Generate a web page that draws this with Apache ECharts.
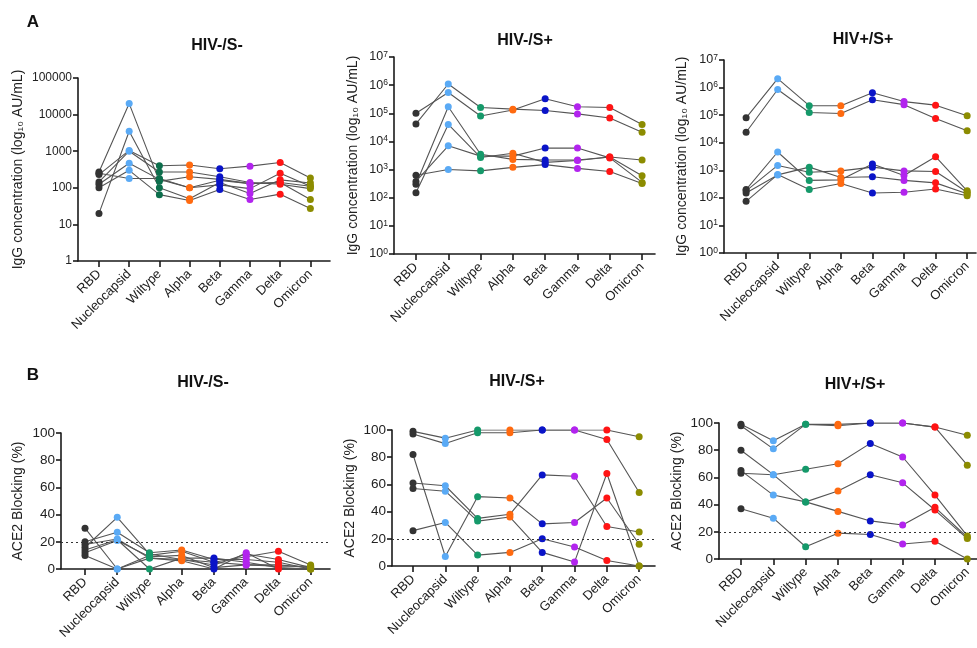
<!DOCTYPE html>
<html>
<head>
<meta charset="utf-8">
<script src="https://cdn.jsdelivr.net/npm/echarts@6/dist/echarts.min.js"></script>
<style>
html,body{margin:0;padding:0;background:#fff;}
#chart{width:977px;height:648px;}
</style>
</head>
<body>
<div id="chart"></div>
<script>
// ---------- data ----------
const categories = ['RBD', 'Nucleocapsid', 'Wiltype', 'Alpha', 'Beta', 'Gamma', 'Delta', 'Omicron'];
const pointColors = ['#333333', '#5aaaf5', '#15996a', '#ff6a10', '#0a14c8', '#b224ee', '#ff1414', '#8c8c00'];
const panelTitles = ['HIV-/S-', 'HIV-/S+', 'HIV+/S+', 'HIV-/S-', 'HIV-/S+', 'HIV+/S+'];

// IgG concentration (AU/mL), one row per participant, columns follow categories
const igHivNegSNeg = [
  [270, 20000, 150, 200, 170, 130, 140, 110],
  [20, 3500, 100, 50, 140, 70, 165, 135],
  [230, 1050, 400, 420, 330, 390, 490, 185],
  [145, 1000, 270, 270, 200, 140, 125, 95],
  [125, 470, 170, 100, 120, 95, 250, 110],
  [100, 300, 65, 45, 90, 48, 67, 27],
  [250, 180, 180, 100, 160, 130, 140, 48]
];
const igHivNegSPos = [
  [100000, 550000, 80000, 130000, 330000, 170000, 160000, 40000],
  [42000, 1100000, 160000, 140000, 125000, 95000, 68000, 21000],
  [300, 170000, 3500, 2300, 2200, 2200, 2800, 2200],
  [150, 40000, 2700, 3800, 1800, 2100, 2800, 600],
  [380, 7000, 3000, 3000, 5800, 5800, 2600, 350],
  [630, 1000, 900, 1200, 1500, 1100, 850, 320]
];
const igHivPosSPos = [
  [80000, 2100000, 220000, 220000, 650000, 310000, 230000, 95000],
  [24000, 850000, 125000, 115000, 360000, 240000, 75000, 27000],
  [200, 4600, 430, 450, 1700, 650, 3100, 180],
  [180, 1500, 850, 950, 1300, 950, 900, 160],
  [150, 680, 1300, 550, 580, 430, 350, 140],
  [75, 700, 200, 330, 150, 160, 210, 120]
];

// ACE2 blocking (%), one row per participant
const aceHivNegSNeg = [
  [30, 0, 10, 13, 5, 9, 13, 3],
  [16, 38, 11, 7, 3, 11, 7, 1],
  [20, 27, 12, 14, 7, 7, 5, 0],
  [14, 21.5, 0, 8, 8, 5, 1, 0],
  [12, 21, 9, 10, 1, 3, 3, 1],
  [10, 0, 8, 6, 0, 12, 0, 0],
  [18, 22, 8, 7, 5, 3, 2, 2]
];
const aceHivNegSPos = [
  [99, 94, 100, 100, 100, 100, 100, 95],
  [97, 90, 98, 98, 100, 100, 93, 54],
  [82, 7, 51, 50, 31, 32, 50, 16],
  [61, 59, 35, 38, 67, 66, 29, 25],
  [57, 55, 33, 36, 10, 3, 68, 0],
  [26, 32, 8, 10, 20, 14, 4, 0]
];
const aceHivPosSPos = [
  [99, 87, 99, 99, 100, 100, 97, 91],
  [98, 81, 99, 98, 100, 100, 97, 69],
  [80, 62, 42, 35, 28, 25, 38, 16],
  [63, 62, 66, 70, 85, 75, 47, 17],
  [65, 47, 42, 50, 62, 56, 36, 15],
  [37, 30, 9, 19, 18, 11, 13, 0]
];

const logTicksSNeg = [1, 10, 100, 1000, 10000, 100000];
const logTicksSPos = [1, 10, 100, 1000, 10000, 100000, 1000000, 10000000];
const blockingTicks = [0, 20, 40, 60, 80, 100];
const blockingThreshold = 20;

// ---------- layout ----------
const FONT = 'Liberation Sans, Arial, Helvetica, sans-serif';
const panels = [
  {data: igHivNegSNeg, kind: 'log', ticks: logTicksSNeg, sup: false, left: 78, top: 78, width: 252, height: 183, xmin: -0.695, xmax: 7.65, nameGap: 53, title: [217, 46], wilColor: '#0d6e4c'},
  {data: igHivNegSPos, kind: 'log', ticks: logTicksSPos, sup: true, left: 394, top: 57, width: 261, height: 197, xmin: -0.68, xmax: 7.4, nameGap: 34, title: [525, 41]},
  {data: igHivPosSPos, kind: 'log', ticks: logTicksSPos, sup: true, left: 724, top: 60, width: 252, height: 193, xmin: -0.7, xmax: 7.28, nameGap: 35, title: [863, 40]},
  {data: aceHivNegSNeg, kind: 'lin', ticks: blockingTicks, left: 61, top: 433, width: 269, height: 136, xmin: -0.745, xmax: 7.6, nameGap: 36, title: [203, 383]},
  {data: aceHivNegSPos, kind: 'lin', ticks: blockingTicks, left: 392, top: 430, width: 263, height: 136, xmin: -0.65, xmax: 7.49, nameGap: 35, title: [517, 382]},
  {data: aceHivPosSPos, kind: 'lin', ticks: blockingTicks, left: 719, top: 423, width: 258, height: 136, xmin: -0.68, xmax: 7.3, nameGap: 35, title: [855, 385]}
];

const axisLineStyle = {color: '#1a1a1a', width: 1.6};
const catIdx = categories.map((c, i) => i);

const grids = [], xAxes = [], yAxes = [], series = [], graphics = [];

panels.forEach((p, pi) => {
  grids.push({left: p.left, top: p.top, width: p.width, height: p.height, containLabel: false});
  xAxes.push({
    gridIndex: pi, type: 'value', min: p.xmin, max: p.xmax,
    splitLine: {show: false},
    axisLine: {show: true, onZero: false, lineStyle: axisLineStyle},
    axisTick: {show: true, length: 6, customValues: catIdx, lineStyle: axisLineStyle},
    axisLabel: {
      customValues: catIdx, rotate: 45, margin: 11,
      fontFamily: FONT, fontSize: 13, color: '#222',
      formatter: v => categories[Math.round(v)] || ''
    }
  });
  const yBase = {
    gridIndex: pi,
    splitLine: {show: false},
    axisLine: {show: true, onZero: false, lineStyle: axisLineStyle},
    axisTick: {show: true, length: 5, lineStyle: axisLineStyle, customValues: p.ticks},
    nameLocation: 'middle', nameGap: p.nameGap, nameRotate: 90,
    nameTextStyle: {fontFamily: FONT, fontSize: 14, color: '#222'}
  };
  if (p.kind === 'log') {
    Object.assign(yBase, {
      type: 'log', logBase: 10, min: p.ticks[0], max: p.ticks[p.ticks.length - 1],
      name: 'IgG concentration (log₁₀ AU/mL)',
      axisLabel: {
        customValues: p.ticks, fontFamily: FONT, fontSize: 12, color: '#222', margin: 6,
        formatter: v => {
          const e = Math.round(Math.log10(v));
          return p.sup ? '{b|10}{s|' + e + '}' : String(Math.round(v));
        },
        rich: {
          b: {fontFamily: FONT, fontSize: 12.5, color: '#222', lineHeight: 14},
          s: {fontFamily: FONT, fontSize: 8.5, color: '#222', lineHeight: 14, verticalAlign: 'top', padding: [0, 0, 7, 0]}
        }
      }
    });
  } else {
    Object.assign(yBase, {
      type: 'value', min: 0, max: 100, interval: 20,
      name: 'ACE2 Blocking (%)',
      axisLabel: {fontFamily: FONT, fontSize: 13.5, color: '#222', margin: 6}
    });
  }
  yAxes.push(yBase);

  p.data.forEach((row, ri) => {
    const s = {
      type: 'line', xAxisIndex: pi, yAxisIndex: pi,
      symbol: 'circle', symbolSize: 7, showSymbol: true,
      lineStyle: {color: '#555', width: 1.1},
      emphasis: {disabled: true},
      z: 2,
      data: row.map((v, ci) => ({
        value: [ci, v],
        itemStyle: {color: (ci === 2 && p.wilColor) ? p.wilColor : pointColors[ci]}
      }))
    };
    if (p.kind === 'lin' && ri === 0) {
      s.markLine = {
        silent: true, symbol: 'none', label: {show: false},
        lineStyle: {type: [2, 3], color: '#333', width: 1},
        data: [{yAxis: blockingThreshold}]
      };
    }
    series.push(s);
  });

  graphics.push({
    type: 'text', x: p.title[0], y: p.title[1],
    style: {text: panelTitles[pi], fontFamily: FONT, fontWeight: 'bold', fontSize: 16, fill: '#111', align: 'center', verticalAlign: 'middle'}
  });
});

graphics.push({type: 'text', x: 33, y: 22, style: {text: 'A', fontFamily: FONT, fontWeight: 'bold', fontSize: 17, fill: '#111', align: 'center', verticalAlign: 'middle'}});
graphics.push({type: 'text', x: 33, y: 375, style: {text: 'B', fontFamily: FONT, fontWeight: 'bold', fontSize: 17, fill: '#111', align: 'center', verticalAlign: 'middle'}});

const chart = echarts.init(document.getElementById('chart'), null, {renderer: 'canvas'});
chart.setOption({
  animation: false,
  backgroundColor: '#fff',
  grid: grids, xAxis: xAxes, yAxis: yAxes, series: series,
  graphic: graphics
});
</script>
</body>
</html>
